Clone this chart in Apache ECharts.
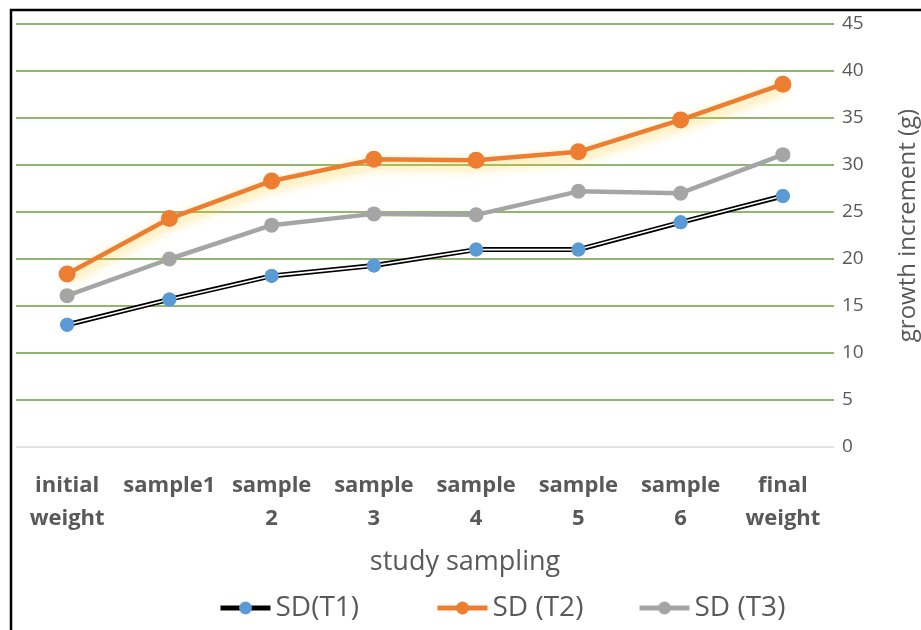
<!DOCTYPE html>
<html lang="en">
  <head>
    <meta charset="utf-8">
    <title>Growth increment</title>
    <script src="https://cdn.jsdelivr.net/npm/echarts@6/dist/echarts.min.js"></script>
  </head>
  <body style="margin:0;background:#fff;">
    <div id="main" style="width:921px;height:630px;"></div>
    <script type="text/javascript">
    var categories = ['initial\nweight', 'sample1', 'sample\n2', 'sample\n3', 'sample\n4', 'sample\n5', 'sample\n6', 'final\nweight'];
    var t1 = [13.0, 15.7, 18.2, 19.3, 21.0, 21.0, 23.9, 26.7];
    var t2 = [18.4, 24.3, 28.3, 30.6, 30.5, 31.4, 34.8, 38.6];
    var t3 = [16.1, 20.0, 23.6, 24.8, 24.7, 27.2, 27.0, 31.1];

    var green = '#6b9e3f';
    var textColor = '#595959';
    var font = 'Open Sans';

    var chart = echarts.init(document.getElementById('main'));

    // one legend per series so each can sit where the original has it
    function legendAt(left, item) {
        return {
            bottom: 3,
            left: left,
            itemWidth: 50,
            itemHeight: 16,
            textStyle: { fontSize: 28, color: textColor, fontFamily: font },
            data: [item]
        };
    }

    var option = {
        animation: false,
        textStyle: { fontFamily: font },
        graphic: [{
            type: 'rect',
            shape: { x: 11, y: 10, width: 1000, height: 1000 },
            style: { fill: 'none', stroke: '#000', lineWidth: 2.5 },
            silent: true
        }],
        grid: { left: 16, right: 87, top: 24, bottom: 183, outerBoundsMode: 'none' },
        legend: [
            legendAt(213, { name: 'SD(T1)', lineStyle: { color: '#000', width: 5 } }),
            legendAt(430, { name: 'SD (T2)', lineStyle: { width: 5 } }),
            legendAt(632, { name: 'SD (T3)', lineStyle: { width: 5 } })
        ],
        xAxis: {
            type: 'category',
            data: categories,
            boundaryGap: true,
            axisTick: { show: false },
            axisLine: { show: false },
            name: 'study sampling',
            nameLocation: 'middle',
            nameGap: 102,
            nameTextStyle: { fontSize: 27, color: textColor, padding: [0, 0, 0, 80] },
            axisLabel: {
                interval: 0,
                margin: 22,
                fontSize: 22,
                fontWeight: 'bold',
                lineHeight: 33,
                color: textColor
            }
        },
        yAxis: {
            type: 'value',
            position: 'right',
            min: 0,
            max: 45,
            interval: 5,
            axisLine: { show: false },
            axisTick: { show: false },
            axisLabel: { margin: 8, fontSize: 19, color: textColor },
            splitLine: {
                lineStyle: {
                    color: ['#d9d9d9', green, green, green, green, green, green, green, green, green],
                    width: 1.5
                }
            },
            name: 'growth increment (g)',
            nameLocation: 'middle',
            nameRotate: 90,
            nameGap: 62,
            nameTextStyle: { fontSize: 24, color: textColor, padding: [0, 0, 0, 20] }
        },
        series: [
            {
                name: 'SD(T1)',
                type: 'line',
                data: t1,
                z: 2,
                symbol: 'circle',
                symbolSize: 14,
                itemStyle: { color: '#5b9bd5' },
                lineStyle: { color: '#000', width: 5 }
            },
            {
                name: 't1inner',
                type: 'line',
                data: t1,
                z: 3,
                showSymbol: false,
                lineStyle: { color: '#fff', width: 1.6 }
            },
            {
                name: 't1marks',
                type: 'line',
                data: t1,
                z: 4,
                symbol: 'circle',
                symbolSize: 14,
                itemStyle: { color: '#5b9bd5' },
                lineStyle: { width: 0 }
            },
            {
                name: 'SD (T3)',
                type: 'line',
                data: t3,
                z: 5,
                symbol: 'circle',
                symbolSize: 15,
                itemStyle: { color: '#a5a5a5' },
                lineStyle: { color: '#a5a5a5', width: 4.5 }
            },
            {
                name: 'SD (T2)',
                type: 'line',
                data: t2,
                z: 6,
                symbol: 'circle',
                symbolSize: 17,
                itemStyle: { color: '#ed7d31' },
                lineStyle: {
                    color: '#ed7d31',
                    width: 4.5,
                    shadowColor: 'rgba(255, 205, 40, 0.8)',
                    shadowBlur: 12,
                    shadowOffsetY: 5
                }
            }
        ]
    };
    chart.setOption(option);
    </script>
  </body>
</html>
